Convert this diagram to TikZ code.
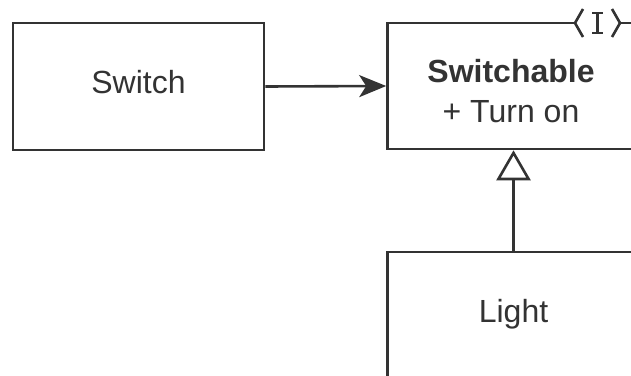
\documentclass[tikz,border=0pt]{standalone}
\usepackage{fontspec}
\setmainfont{Liberation Sans}
\usetikzlibrary{arrows.meta}
\definecolor{ink}{HTML}{333333}
\begin{document}
\begin{tikzpicture}[x=1pt,y=-1pt,
  cls/.style={draw=ink, line width=2.6pt, fill=white, inner sep=0pt},
  lbl/.style={text=ink, font=\fontsize{32}{38}\selectfont, inner sep=0pt, anchor=base},
  conn/.style={draw=ink, line width=2.6pt}]
\useasboundingbox (0,0) rectangle (631,375);
\clip (0,0) rectangle (631,375);
\fill[white] (0,0) rectangle (631,375);
% boxes
\node[cls, minimum width=251pt, minimum height=127pt] (switch) at (138.5,86.5) {};
\node[cls, minimum width=252pt, minimum height=126pt] (switchable) at (513.5,86) {};
\node[cls, minimum width=252pt, minimum height=150pt] (light) at (513.5,327) {};
% labels
\node[lbl] (tswitch) at (138.5,93) {Switch};
\node[lbl, font=\fontsize{32}{38}\selectfont\bfseries] (tswitchable) at (511,82) {Switchable};
\node[lbl] (tturn) at (511,122) {+ Turn on};
\node[lbl] (tlight) at (513.5,322) {Light};
% connectors
\draw[conn, -{Stealth[length=27pt, width=22pt, inset=7pt]}] (switch.east) -- (switchable.west);
\draw[conn, -{Triangle[open, length=30pt, width=34pt, fill=white]}] (light.north) -- (switchable.south);
% interface marker
\coordinate (ileft) at (575,23);
\coordinate (iright) at (620,23);
\fill[white] (ileft) -- (583,8) -- (612,8) -- (iright) -- (612,38) -- (583,38) -- cycle;
\draw[conn, line join=miter] (583,9) -- (ileft) -- (583,37);
\draw[conn, line join=miter] (612,9) -- (iright) -- (612,37);
\draw[conn, line width=2.2pt] (597.5,13) -- (597.5,33);
\draw[conn, line width=2.2pt] (592,13) -- (603,13);
\draw[conn, line width=2.2pt] (592,33) -- (603,33);
\end{tikzpicture}
\end{document}
